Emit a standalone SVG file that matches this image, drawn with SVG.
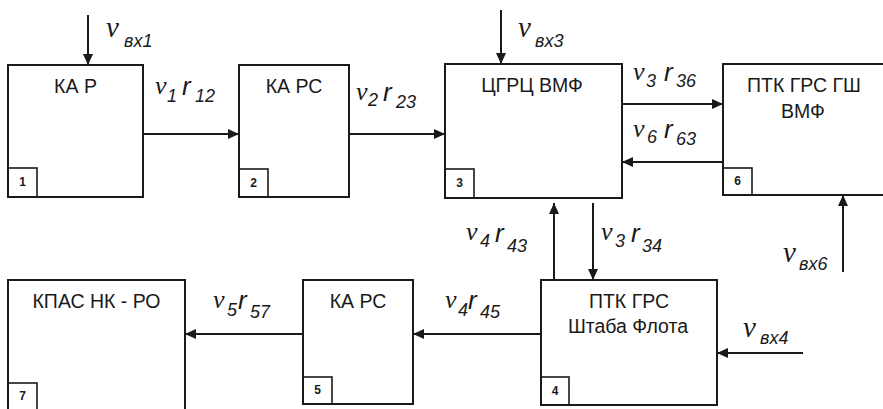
<svg xmlns="http://www.w3.org/2000/svg" width="883" height="409" viewBox="0 0 883 409">
<style>
.box{fill:#fff;stroke:#1a1a1a;stroke-width:2}
.sq{fill:none;stroke:#1a1a1a;stroke-width:1.6}
.t{font-family:"Liberation Sans",Arial,sans-serif;font-size:19.5px;fill:#1a1a1a;text-anchor:middle}
.n{font-family:"Liberation Sans",Arial,sans-serif;font-size:12px;font-weight:bold;fill:#1a1a1a;text-anchor:middle}
.v{font-family:"Liberation Serif","Times New Roman",serif;font-style:italic;font-size:26px;fill:#1a1a1a}
.vb{font-family:"Liberation Serif","Times New Roman",serif;font-style:italic;font-size:29px;fill:#1a1a1a}
.r{font-family:"Liberation Sans",Arial,sans-serif;font-style:italic;font-size:26px;fill:#1a1a1a}
.s{font-family:"Liberation Sans",Arial,sans-serif;font-style:italic;font-size:18px;fill:#1a1a1a}
.c{fill:none;stroke:#1a1a1a;stroke-width:2;marker-end:url(#ah)}
</style>
<defs>
<marker id="ah" markerUnits="userSpaceOnUse" markerWidth="12" markerHeight="10" refX="11" refY="5" orient="auto">
<path d="M0,0 L11,5 L0,10 Z" fill="#1a1a1a"/>
</marker>
</defs>
<rect width="883" height="409" fill="#fff"/>
<g id="connectors">
<line class="c" x1="88" y1="15" x2="88" y2="65"/>
<line class="c" x1="501" y1="10" x2="501" y2="64"/>
<line class="c" x1="143" y1="134" x2="239" y2="134"/>
<line class="c" x1="349" y1="134" x2="445" y2="134"/>
<line class="c" x1="622" y1="104" x2="723" y2="104"/>
<line class="c" x1="723" y1="162" x2="622" y2="162"/>
<line class="c" x1="554" y1="280" x2="554" y2="203"/>
<line class="c" x1="593" y1="203" x2="593" y2="280"/>
<line class="c" x1="843" y1="272" x2="843" y2="195"/>
<line class="c" x1="803" y1="353" x2="717" y2="353"/>
<line class="c" x1="541" y1="334" x2="413" y2="334"/>
<line class="c" x1="303" y1="334" x2="185" y2="334"/>
</g>
<g id="labels">
<text class="vb" x="106" y="37">v</text><text class="s" x="124" y="47">вх1</text>
<text class="vb" x="518" y="37">v</text><text class="s" x="535" y="47">вх3</text>
<text class="vb" x="743" y="337">v</text><text class="s" x="760" y="344">вх4</text>
<text class="vb" x="783" y="262">v</text><text class="s" x="799" y="270">вх6</text>
<text class="v" x="155" y="94">v</text><text class="s" x="167" y="102">1</text><text class="r" x="182" y="95">r</text><text class="s" x="195" y="102">12</text>
<text class="v" x="356" y="100">v</text><text class="s" x="368" y="106">2</text><text class="r" x="383" y="101">r</text><text class="s" x="396" y="108">23</text>
<text class="v" x="633" y="80">v</text><text class="s" x="646" y="87">3</text><text class="r" x="664" y="81">r</text><text class="s" x="676" y="87">36</text>
<text class="v" x="633" y="137">v</text><text class="s" x="647" y="143">6</text><text class="r" x="664" y="138">r</text><text class="s" x="676" y="145">63</text>
<text class="v" x="466" y="240">v</text><text class="s" x="480" y="247">4</text><text class="r" x="495" y="242">r</text><text class="s" x="507" y="252">43</text>
<text class="v" x="601" y="240">v</text><text class="s" x="615" y="247">3</text><text class="r" x="631" y="242">r</text><text class="s" x="642" y="252">34</text>
<text class="v" x="445" y="308">v</text><text class="s" x="458" y="316">4</text><text class="r" x="468" y="309">r</text><text class="s" x="480" y="318">45</text>
<text class="v" x="213" y="308">v</text><text class="s" x="227" y="316">5</text><text class="r" x="238" y="309">r</text><text class="s" x="250" y="318">57</text>
</g>
<g id="node1">
<rect class="box" x="8" y="65" width="135" height="132"/>
<rect class="sq" x="8" y="168" width="29" height="29"/>
<text class="t" x="75.5" y="93">КА Р</text>
<text class="n" x="22.5" y="186">1</text>
</g>
<g id="node2">
<rect class="box" x="239" y="65" width="110" height="132"/>
<rect class="sq" x="239" y="169" width="29" height="28"/>
<text class="t" x="294" y="93">КА РС</text>
<text class="n" x="253.5" y="187">2</text>
</g>
<g id="node3">
<rect class="box" x="445" y="64" width="177" height="134"/>
<rect class="sq" x="445" y="169" width="29" height="29"/>
<text class="t" x="532" y="92">ЦГРЦ ВМФ</text>
<text class="n" x="459.5" y="187">3</text>
</g>
<g id="node6">
<rect class="box" x="723" y="64" width="175" height="131"/>
<rect class="sq" x="723" y="168" width="29" height="27"/>
<text class="t" x="804" y="92">ПТК ГРС ГШ</text>
<text class="t" x="803" y="118">ВМФ</text>
<text class="n" x="737.5" y="185">6</text>
</g>
<g id="node4">
<rect class="box" x="541" y="280" width="176" height="125"/>
<rect class="sq" x="541" y="377" width="28" height="28"/>
<text class="t" x="629" y="308">ПТК ГРС</text>
<text class="t" x="628" y="333">Штаба Флота</text>
<text class="n" x="555" y="395">4</text>
</g>
<g id="node5">
<rect class="box" x="303" y="280" width="110" height="124"/>
<rect class="sq" x="303" y="377" width="29" height="27"/>
<text class="t" x="358" y="308">КА РС</text>
<text class="n" x="317.5" y="394">5</text>
</g>
<g id="node7">
<rect class="box" x="8" y="280" width="177" height="140"/>
<rect class="sq" x="8" y="383" width="29" height="37"/>
<text class="t" x="96.5" y="308">КПАС НК - РО</text>
<text class="n" x="22.5" y="400">7</text>
</g>
</svg>
